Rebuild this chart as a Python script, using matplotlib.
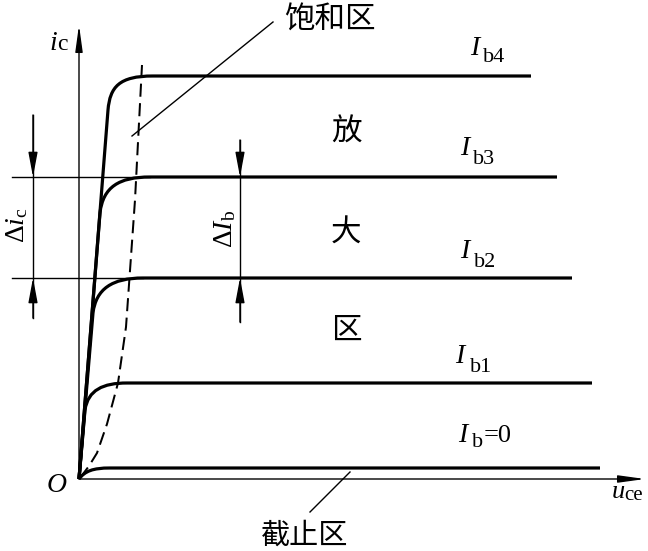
import matplotlib
matplotlib.use('Agg')
import matplotlib.pyplot as plt
from matplotlib.path import Path
from matplotlib.patches import PathPatch

plt.rcParams['mathtext.fontset'] = 'custom'
plt.rcParams['mathtext.rm'] = 'Liberation Serif'
plt.rcParams['mathtext.it'] = 'Liberation Serif:italic'

# output characteristic curves (u_ce, i_c in drawing units, origin at O)
curve_names = ['b=0', 'b1', 'b2', 'b3', 'b4']
flat_level = [11, 96, 201, 302, 403]
curve_end = [521, 513, 493, 478, 452]
branch_u = [0, 6, 14, 21, 29]
branch_i = [0, 69, 166, 266, 369]
ctrl1_u = [6, 9, 17, 24, 31]
ctrl1_i = [8, 89, 190, 292, 392]
ctrl2_u = [14, 24, 33, 40, 40]
knee_u = [31, 48, 64, 71, 74]

# saturation boundary (dashed)
sat_u = [1, 10, 18, 28, 39, 47, 56, 63]
sat_i = [1, 13, 26, 55, 96, 152, 279, 414]

# label text
ib_subs = ['b=0', 'b1', 'b2', 'b3', 'b4']

fig = plt.figure(figsize=(6.48, 5.51), dpi=100)
ax = fig.add_axes([0, 0, 1, 1])
ax.set_xlim(-79, 569)
ax.set_ylim(-72, 479)
ax.axis('off')

k = 'black'
thick = 2.3
thin = 1.0

# axes with arrows
ax.annotate('', xy=(0, 454), xytext=(0, 0),
            arrowprops=dict(arrowstyle='-|>,head_length=1.6,head_width=0.22',
                            lw=thin, color=k, shrinkA=0, shrinkB=0))
ax.annotate('', xy=(566, 0), xytext=(0, 0),
            arrowprops=dict(arrowstyle='-|>,head_length=1.6,head_width=0.22',
                            lw=thin, color=k, shrinkA=0, shrinkB=0))

# curves
for i in range(len(curve_names)):
    lvl = flat_level[i]
    verts = [(0, 0), (branch_u[i], branch_i[i]),
             (ctrl1_u[i], ctrl1_i[i]), (ctrl2_u[i], lvl), (knee_u[i], lvl),
             (curve_end[i], lvl)]
    codes = [Path.MOVETO, Path.LINETO, Path.CURVE4, Path.CURVE4, Path.CURVE4,
             Path.LINETO]
    ax.add_patch(PathPatch(Path(verts, codes), fill=False, lw=thick, color=k,
                           capstyle='butt', joinstyle='round'))

ax.plot(sat_u, sat_i, color=k, lw=1.45, linestyle=(0, (6.5, 3.2)))

# thin reference lines for delta i_c
ax.plot([-67, 71], [flat_level[3], flat_level[3]], color=k, lw=thin)
ax.plot([-67, 64], [flat_level[2], flat_level[2]], color=k, lw=thin)

arr = dict(arrowstyle='-|>,head_length=1.5,head_width=0.28', lw=thin,
           color=k, shrinkA=0, shrinkB=0)
for x, top, bot in [(-46, 364, 161), (161, 339, 157)]:
    ax.plot([x, x], [bot, top], color=k, lw=thin)
    ax.annotate('', xy=(x, flat_level[3]), xytext=(x, top), arrowprops=arr)
    ax.annotate('', xy=(x, flat_level[2]), xytext=(x, bot), arrowprops=arr)

ax.text(-63, 254, r'$\Delta i_{\mathrm{c}}$', rotation=90, fontsize=20,
        ha='center', va='center')
ax.text(145, 250, r'$\Delta I_{\mathrm{b}}$', rotation=90, fontsize=20,
        ha='center', va='center')

# leader lines
ax.plot([194, 53], [457, 343], color=k, lw=thin)
ax.plot([231, 271], [-33, 7], color=k, lw=thin)

# chinese labels
cjk = ['Noto Sans CJK SC', 'DejaVu Sans']
ax.text(251, 459, '饱和区', family=cjk, fontsize=22, ha='center', va='center')
ax.text(267, 347, '放', family=cjk, fontsize=22, ha='center', va='center')
ax.text(267, 246, '大', family=cjk, fontsize=22, ha='center', va='center')
ax.text(267, 149, '区', family=cjk, fontsize=22, ha='center', va='center')
ax.text(226, -57, '截止区', family=cjk, fontsize=21, ha='center', va='center')

# I_b labels: (I left, I baseline, sub left, sub baseline)
lab_pos = [(379, 37, 393, 32), (376, 116, 391, 107), (381, 221, 395, 212),
           (381, 324, 394, 315), (391, 424, 404, 417)]
for s, (xi, yi, xs, ys) in zip(ib_subs, lab_pos):
    ax.text(xi, yi, 'I', family='Liberation Serif', style='italic',
            fontsize=20, va='baseline')
    if s == 'b=0':
        ax.text(xs, ys, 'b', family='Liberation Serif', fontsize=16,
                va='baseline')
        ax.text(xs + 12, yi, '=0', family='Liberation Serif', fontsize=19,
                va='baseline')
    else:
        ax.text(xs, ys, s, family='Liberation Serif', fontsize=16,
                va='baseline')

# axis labels
ax.text(-30, 429, 'i', family='Liberation Serif', style='italic',
        fontsize=20, va='baseline')
ax.text(-22, 429, 'c', family='Liberation Serif', fontsize=17, va='baseline')
ax.text(533, -19, 'u', family='Liberation Serif', style='italic',
        fontsize=19, va='baseline')
ax.text(545, -21, 'ce', family='Liberation Serif', fontsize=15, va='baseline')
ax.text(-32, -13, 'O', family='Liberation Serif', style='italic',
        fontsize=20, va='baseline')

fig.savefig('out.png', dpi=100)
